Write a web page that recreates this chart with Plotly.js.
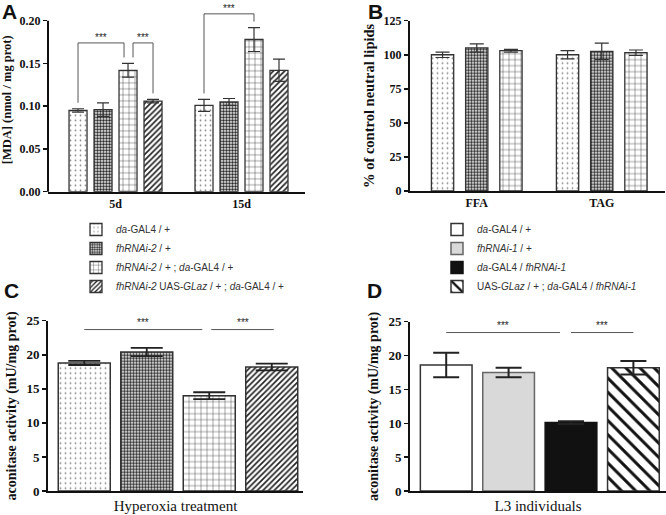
<!DOCTYPE html>
<html><head><meta charset="utf-8">
<script src="https://cdn.plot.ly/plotly-3.0.1.min.js"></script>
<style>html,body{margin:0;padding:0;background:#fff}</style>
</head><body><div id="chart" style="width:666px;height:515px"></div>
<script>
// ---------- DATA ----------
// Panel A: MDA levels
const groupsA = ['5d', '15d'];
const genotypesA = ['<i>da</i>-GAL4 / +', '<i>fhRNAi-2</i> / +', '<i>fhRNAi-2</i> / + ; <i>da</i>-GAL4 / +', '<i>fhRNAi-2</i> UAS-<i>GLaz</i> / + ; <i>da</i>-GAL4 / +'];
const mdaDaGal4 = [0.095, 0.101];
const mdaFhRNAi2 = [0.096, 0.105];
const mdaKnockdown = [0.142, 0.178];
const mdaRescue = [0.106, 0.142];
const mdaErrDaGal4 = [0.002, 0.007];
const mdaErrFhRNAi2 = [0.008, 0.004];
const mdaErrKnockdown = [0.008, 0.014];
const mdaErrRescue = [0.002, 0.013];
// Panel B: neutral lipids (% of control)
const groupsB = ['FFA', 'TAG'];
const lipDaGal4 = [100, 100];
const lipFhRNAi2 = [105, 102.5];
const lipKnockdown = [103, 101.5];
const lipErrDaGal4 = [2, 3];
const lipErrFhRNAi2 = [3, 6];
const lipErrKnockdown = [1, 2];
// Panel C: aconitase activity, hyperoxia
const categoryC = ['Hyperoxia treatment'];
const aconC = [18.8, 20.4, 14.0, 18.2];
const aconErrC = [0.3, 0.6, 0.5, 0.5];
// Panel D: aconitase activity, L3 individuals
const categoryD = ['L3 individuals'];
const genotypesD = ['<i>da</i>-GAL4 / +', '<i>fhRNAi-1</i> / +', '<i>da</i>-GAL4 / <i>fhRNAi-1</i>', 'UAS-<i>GLaz</i> / + ; <i>da</i>-GAL4 / <i>fhRNAi-1</i>'];
const aconD = [18.6, 17.5, 10.1, 18.2];
const aconErrD = [1.8, 0.7, 0.2, 1.0];
// Significance labels
const sigLabel = '***';

// ---------- STYLE ----------
const SERIF = 'Liberation Serif, Times New Roman, serif';
const SANS = 'Liberation Sans, Arial, sans-serif';
const W = 666, H = 515;
const px = v => v / W, py = v => 1 - v / H;

const patterns = [
  {shape: '.', size: 5, solidity: 0.1, fgcolor: '#888', bgcolor: '#fff'},
  {shape: '.', size: 3, solidity: 0.55, fgcolor: '#222', bgcolor: '#fff'},
  {shape: '+', size: 6, solidity: 0.14, fgcolor: '#333', bgcolor: '#fff'},
  {shape: '/', size: 4, solidity: 0.42, fgcolor: '#222', bgcolor: '#fff'}
];
const patternsD = [
  {shape: ''}, {shape: ''}, {shape: ''},
  {shape: '\\', size: 10, solidity: 0.3, fgcolor: '#111', bgcolor: '#fff'}
];
const colorsD = ['#ffffff', '#d9d9d9', '#111111', '#ffffff'];
const linesD = ['#333', '#666', '#111', '#333'];

// bar geometry (pixels per category unit, slot, bar width)
const geoA = {unit: 126, slot: 25, bw: 18, n: 4, shift: 0};
const geoB = {unit: 125, slot: 34.2, bw: 22.3, n: 3, shift: 0};
const geoC = {unit: 255, slot: 62.5, bw: 52, n: 4, shift: 2.5};
const geoD = {unit: 256, slot: 62.4, bw: 51.7, n: 4, shift: 1.8};
function off(g, i) { return (-(g.slot * (g.n - 1) + g.bw) / 2 + g.slot * i + g.shift) / g.unit; }
function wid(g) { return g.bw / g.unit; }
function ctr(g, i) { return off(g, i) + wid(g) / 2; }

const traces = [];
function addBar(opts) {
  traces.push(Object.assign({type: 'bar', hoverinfo: 'skip'}, opts));
}

// Panel A traces
const valsA = [mdaDaGal4, mdaFhRNAi2, mdaKnockdown, mdaRescue];
const errsA = [mdaErrDaGal4, mdaErrFhRNAi2, mdaErrKnockdown, mdaErrRescue];
valsA.forEach((v, i) => addBar({
  x: groupsA, y: v, name: genotypesA[i], xaxis: 'x', yaxis: 'y',
  offset: off(geoA, i), width: wid(geoA),
  marker: {color: '#fff', line: {color: '#333', width: 1.3}, pattern: patterns[i]},
  error_y: {type: 'data', array: errsA[i], color: '#333', thickness: 1.2, width: 6},
  legend: 'legend', showlegend: true
}));
// Panel B traces
const valsB = [lipDaGal4, lipFhRNAi2, lipKnockdown];
const errsB = [lipErrDaGal4, lipErrFhRNAi2, lipErrKnockdown];
valsB.forEach((v, i) => addBar({
  x: groupsB, y: v, name: genotypesA[i], xaxis: 'x2', yaxis: 'y2',
  offset: off(geoB, i), width: wid(geoB),
  marker: {color: '#fff', line: {color: '#333', width: 1.3}, pattern: patterns[i]},
  error_y: {type: 'data', array: errsB[i], color: '#333', thickness: 1.2, width: 7},
  showlegend: false
}));
// Panel C traces
aconC.forEach((v, i) => addBar({
  x: categoryC, y: [v], name: genotypesA[i], xaxis: 'x3', yaxis: 'y3',
  offset: off(geoC, i), width: wid(geoC),
  marker: {color: '#fff', line: {color: '#333', width: 1.5}, pattern: patterns[i]},
  error_y: {type: 'data', array: [aconErrC[i]], color: '#222', thickness: 1.8, width: 16},
  showlegend: false
}));
// Panel D traces
aconD.forEach((v, i) => addBar({
  x: categoryD, y: [v], name: genotypesD[i], xaxis: 'x4', yaxis: 'y4',
  offset: off(geoD, i), width: wid(geoD),
  marker: {color: colorsD[i], line: {color: linesD[i], width: 1.5}, pattern: patternsD[i]},
  error_y: {type: 'data', array: [aconErrD[i]], color: '#222', thickness: 2, width: 13},
  legend: 'legend2', showlegend: true
}));

// ---------- AXES ----------
const tickFontAB = {family: SERIF, size: 12, color: '#111', weight: 'bold'};
const tickFontCD = {family: SERIF, size: 13, color: '#111', weight: 'bold'};
const tf = s => ({family: SERIF, size: s, color: '#111', weight: 'bold'});
function xAxis(dom, range, anchor, font) {
  return {domain: dom, range: range, anchor: anchor, type: 'category', showline: true,
    linewidth: 2, linecolor: '#111', ticks: '', showgrid: false, zeroline: false,
    tickfont: font, fixedrange: true};
}
function yAxis(dom, range, anchor, dtick, fmt, title, font, showline, tsize) {
  return {domain: dom, range: range, anchor: anchor, dtick: dtick, tick0: 0, tickformat: fmt,
    showline: showline, linewidth: 2, linecolor: '#111', ticks: 'outside', ticklen: 4,
    tickwidth: 1.5, tickcolor: '#111', showgrid: false, zeroline: false,
    tickfont: font, title: {text: title, font: tf(tsize), standoff: 6}, fixedrange: true};
}
const yTopA = 0.215;
const catFont = {family: SERIF, size: 15, color: '#111'};

const layout = {
  width: W, height: H, margin: {l: 0, r: 0, t: 0, b: 0},
  paper_bgcolor: '#fff', plot_bgcolor: 'rgba(0,0,0,0)',
  barmode: 'group', showlegend: true,
  xaxis: xAxis([px(48), px(305)], [-0.536, 1.504], 'y', tickFontAB),
  yaxis: yAxis([1 - 191.7 / H, 1 - (191.7 - yTopA / 0.2 * 171) / H], [0, yTopA], 'x', 0.05, '.2f', '[MDA] (nmol / mg prot)', tickFontAB, false, 12.5),
  xaxis2: xAxis([px(410), px(665)], [-0.534, 1.506], 'y2', tickFontAB),
  yaxis2: yAxis([1 - 191 / H, 1 - 20.7 / H], [0, 125], 'x2', 25, 'd', '% of control neutral lipids', tickFontAB, true, 14.5),
  xaxis3: xAxis([px(48), px(303)], [-0.5, 0.5], 'y3', catFont),
  yaxis3: yAxis([1 - 491 / H, 1 - 320.7 / H], [0, 25], 'x3', 5, 'd', 'aconitase activity (mU/mg prot)', tickFontCD, true, 14),
  xaxis4: xAxis([px(410), 1], [-0.5, 0.5], 'y4', catFont),
  yaxis4: yAxis([1 - 491 / H, 1 - 321.7 / H], [0, 25], 'x4', 5, 'd', 'aconitase activity (mU/mg prot)', tickFontCD, true, 14),
  legend: {x: px(76), xanchor: 'left', y: py(258), yanchor: 'middle', bgcolor: 'rgba(0,0,0,0)',
    font: {family: SANS, size: 10, color: '#333'}, tracegroupgap: 0},
  legend2: {x: px(437), xanchor: 'left', y: py(258), yanchor: 'middle', bgcolor: 'rgba(0,0,0,0)',
    font: {family: SANS, size: 10, color: '#333'}, tracegroupgap: 0},
  shapes: [], annotations: []
};
// Panel A y-axis line only up to 0.20
layout.shapes.push({type: 'line', xref: 'x domain', yref: 'y domain', x0: 0, x1: 0, y0: 0, y1: 0.2 / yTopA,
  line: {color: '#111', width: 2}});

const sigLine = {color: '#555', width: 1};
const sigFont = {family: SANS, size: 10, color: '#222'};
function lineShape(xr, yr, x0, y0, x1, y1) {
  layout.shapes.push({type: 'line', xref: xr, yref: yr, x0: x0, x1: x1, y0: y0, y1: y1, line: sigLine});
}
function star(xr, yr, x, y) {
  layout.annotations.push({xref: xr, yref: yr, x: x, y: y, text: sigLabel, showarrow: false,
    yanchor: 'bottom', font: sigFont, yshift: -2});
}
// Panel A brackets: [group, barFrom, barTo, level, nudgeFrom(px), nudgeTo(px)]
const bracketsA = [[0, 0, 2, 0.174, 0, -4], [0, 2, 3, 0.174, 5, 0], [1, 0, 2, 0.208, 0, 0]];
bracketsA.forEach(([g, a, b, lvl, na, nb]) => {
  const xa = g + ctr(geoA, a) + na / geoA.unit, xb = g + ctr(geoA, b) + nb / geoA.unit;
  const ya = valsA[a][g] + errsA[a][g] + 0.007, yb = valsA[b][g] + errsA[b][g] + 0.007;
  lineShape('x', 'y', xa, ya, xa, lvl);
  lineShape('x', 'y', xa, lvl, xb, lvl);
  lineShape('x', 'y', xb, lvl, xb, yb);
  star('x', 'y', (xa + xb) / 2, lvl);
});
// Panel C / D lines: [geo, xref, yref, level, [[barFrom, barTo, nudgeFrom(px), nudgeTo(px)]]]
const sigCD = [[geoC, 'x3', 'y3', 23.7, [[0, 2, 0, -7], [2, 3, 2, 2]]], [geoD, 'x4', 'y4', 23.4, [[0, 2, 0, -11], [2, 3, 0, 0]]]];
sigCD.forEach(([g, xr, yr, lvl, pairs]) => {
  pairs.forEach(([a, b, na, nb]) => {
    const xa = ctr(g, a) + na / g.unit;
    const xb = ctr(g, b) + nb / g.unit;
    lineShape(xr, yr, xa, lvl, xb, lvl);
    star(xr, yr, (xa + xb) / 2, lvl + 0.3);
  });
});
// Panel letters
[['A', 9, 12], ['B', 375, 12], ['C', 11, 290], ['D', 374, 290]].forEach(([t, x, y]) => {
  layout.annotations.push({xref: 'paper', yref: 'paper', x: px(x), y: py(y), text: t, showarrow: false,
    xanchor: 'center', yanchor: 'middle', font: {family: SANS, size: 21, color: '#111', weight: 'bold'}});
});

Plotly.newPlot('chart', traces, layout, {displayModeBar: false, staticPlot: true});
</script>
</body></html>
